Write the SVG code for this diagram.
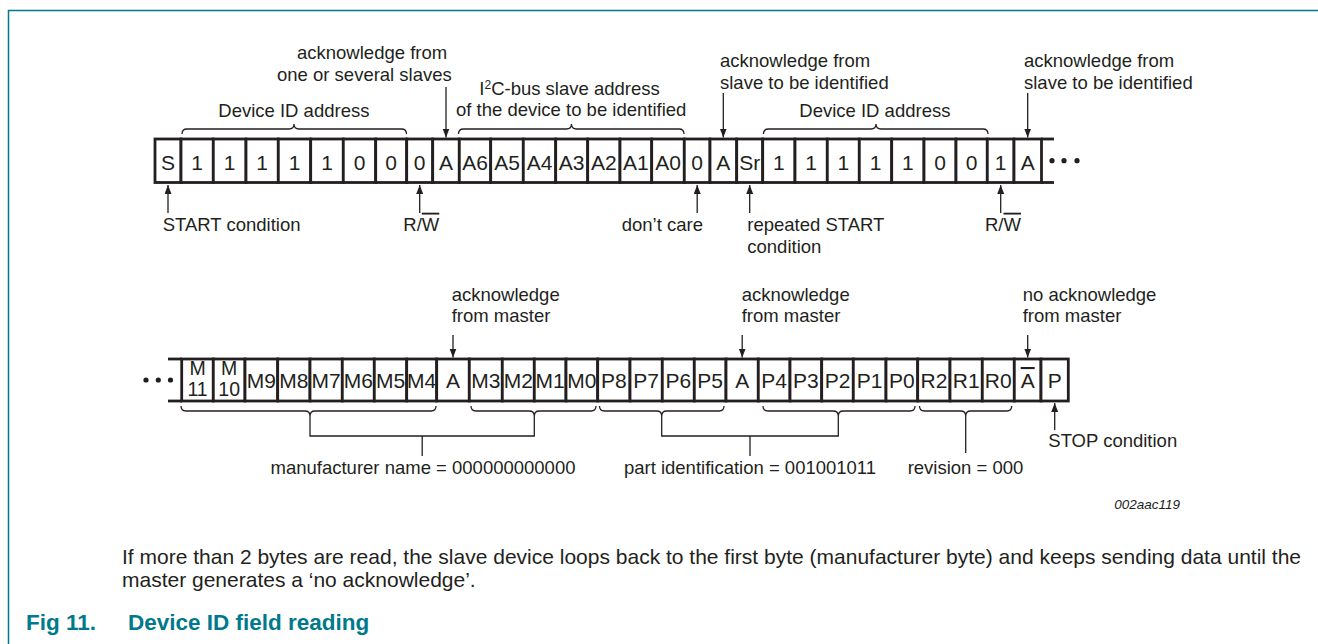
<svg xmlns="http://www.w3.org/2000/svg" width="1318" height="644" viewBox="0 0 1318 644">
<style>
  text { font-family: "Liberation Sans", Arial, sans-serif; fill: #231f20; }
  .lbl { font-size: 18.5px; }
  .ctr { text-anchor: middle; }
  .cell rect { fill: #fff; stroke: #231f20; stroke-width: 2.8; }
  .cell text { font-size: 21px; text-anchor: middle; }
  .cell text.two { font-size: 19.5px; }
  .bus { stroke: #231f20; stroke-width: 2.8; fill: none; }
  .thin { stroke: #231f20; stroke-width: 1.3; fill: none; }
  .arr { stroke: #231f20; stroke-width: 1.3; fill: none; marker-end: url(#ah); }
  .dot { fill: #231f20; }
  .ol { text-decoration: overline; }
  .teal { stroke: #00798c; stroke-width: 1.5; fill: none; }
  .cap { font-size: 22.5px; font-weight: bold; fill: #00798c; }
  .para { font-size: 21px; }
</style>
<defs>
  <marker id="ah" markerUnits="userSpaceOnUse" markerWidth="10" markerHeight="8" refX="9" refY="3.5" orient="auto">
    <path d="M0,0 L9,3.5 L0,7 z" fill="#231f20"/>
  </marker>
</defs>
<rect x="0" y="0" width="1318" height="644" fill="#fff"/>
<g id="frame">
  <path class="teal" d="M8.5,644 V10.5 H1318"/>
</g>

<!-- Top row -->
<g id="row1">
  <line class="bus" x1="1041" y1="139" x2="1054" y2="139"/>
  <line class="bus" x1="1041" y1="182.5" x2="1054" y2="182.5"/>
  <g id="t-S" class="cell"><rect x="155" y="139" width="26" height="43.5"/><text x="168" y="170">S</text></g>
  <g id="t-d1" class="cell"><rect x="181" y="139" width="32.3" height="43.5"/><text x="197.2" y="170">1</text></g>
  <g id="t-d2" class="cell"><rect x="213.3" y="139" width="32.7" height="43.5"/><text x="229.6" y="170">1</text></g>
  <g id="t-d3" class="cell"><rect x="246" y="139" width="32.3" height="43.5"/><text x="262.2" y="170">1</text></g>
  <g id="t-d4" class="cell"><rect x="278.3" y="139" width="32.4" height="43.5"/><text x="294.5" y="170">1</text></g>
  <g id="t-d5" class="cell"><rect x="310.7" y="139" width="32.6" height="43.5"/><text x="327" y="170">1</text></g>
  <g id="t-d6" class="cell"><rect x="343.3" y="139" width="32.4" height="43.5"/><text x="359.5" y="170">0</text></g>
  <g id="t-d7" class="cell"><rect x="375.7" y="139" width="31" height="43.5"/><text x="391.2" y="170">0</text></g>
  <g id="t-rw1" class="cell"><rect x="406.7" y="139" width="26" height="43.5"/><text x="419.7" y="170">0</text></g>
  <g id="t-A1" class="cell"><rect x="432.7" y="139" width="26.6" height="43.5"/><text x="446" y="170">A</text></g>
  <g id="t-A6" class="cell"><rect x="459.3" y="139" width="31.4" height="43.5"/><text x="475" y="170">A6</text></g>
  <g id="t-A5" class="cell"><rect x="490.7" y="139" width="32.6" height="43.5"/><text x="507" y="170">A5</text></g>
  <g id="t-A4" class="cell"><rect x="523.3" y="139" width="32.4" height="43.5"/><text x="539.5" y="170">A4</text></g>
  <g id="t-A3" class="cell"><rect x="555.7" y="139" width="32" height="43.5"/><text x="571.7" y="170">A3</text></g>
  <g id="t-A2" class="cell"><rect x="587.7" y="139" width="32.3" height="43.5"/><text x="603.9" y="170">A2</text></g>
  <g id="t-A1b" class="cell"><rect x="620" y="139" width="31.7" height="43.5"/><text x="635.9" y="170">A1</text></g>
  <g id="t-A0" class="cell"><rect x="651.7" y="139" width="32.6" height="43.5"/><text x="668" y="170">A0</text></g>
  <g id="t-dc" class="cell"><rect x="684.3" y="139" width="25.7" height="43.5"/><text x="697.2" y="170">0</text></g>
  <g id="t-A2ack" class="cell"><rect x="710" y="139" width="26.7" height="43.5"/><text x="723.3" y="170">A</text></g>
  <g id="t-Sr" class="cell"><rect x="736.7" y="139" width="26" height="43.5"/><text x="749.7" y="170">Sr</text></g>
  <g id="t-e1" class="cell"><rect x="762.7" y="139" width="32.3" height="43.5"/><text x="778.9" y="170">1</text></g>
  <g id="t-e2" class="cell"><rect x="795" y="139" width="32.3" height="43.5"/><text x="811.2" y="170">1</text></g>
  <g id="t-e3" class="cell"><rect x="827.3" y="139" width="32" height="43.5"/><text x="843.3" y="170">1</text></g>
  <g id="t-e4" class="cell"><rect x="859.3" y="139" width="32.4" height="43.5"/><text x="875.5" y="170">1</text></g>
  <g id="t-e5" class="cell"><rect x="891.7" y="139" width="32.3" height="43.5"/><text x="907.9" y="170">1</text></g>
  <g id="t-e6" class="cell"><rect x="924" y="139" width="32" height="43.5"/><text x="940" y="170">0</text></g>
  <g id="t-e7" class="cell"><rect x="956" y="139" width="31.3" height="43.5"/><text x="971.7" y="170">0</text></g>
  <g id="t-rw2" class="cell"><rect x="987.3" y="139" width="26.7" height="43.5"/><text x="1000.7" y="170">1</text></g>
  <g id="t-A3ack" class="cell"><rect x="1014" y="139" width="27.5" height="43.5"/><text x="1027.7" y="170">A</text></g>
  <g id="t-more">
    <circle class="dot" cx="1052" cy="160.7" r="2.6"/>
    <circle class="dot" cx="1064" cy="160.7" r="2.6"/>
    <circle class="dot" cx="1077" cy="160.7" r="2.6"/>
  </g>
</g>

<!-- Bottom row -->
<g id="row2">
  <line class="bus" x1="168" y1="359" x2="182" y2="359"/>
  <line class="bus" x1="168" y1="401" x2="182" y2="401"/>
  <g id="b-more">
    <circle class="dot" cx="146" cy="380" r="2.6"/>
    <circle class="dot" cx="158.3" cy="380" r="2.6"/>
    <circle class="dot" cx="170.5" cy="380" r="2.6"/>
  </g>
  <g id="b-M11" class="cell"><rect x="181.7" y="359" width="31.6" height="42"/><text class="two" x="197.5" y="374.5">M</text><text class="two" x="197.5" y="395.5">11</text></g>
  <g id="b-M10" class="cell"><rect x="213.3" y="359" width="31.7" height="42"/><text class="two" x="229.2" y="374.5">M</text><text class="two" x="229.2" y="395.5">10</text></g>
  <g id="b-M9" class="cell"><rect x="245" y="359" width="32.7" height="42"/><text x="261.4" y="388">M9</text></g>
  <g id="b-M8" class="cell"><rect x="277.7" y="359" width="32.3" height="42"/><text x="293.9" y="388">M8</text></g>
  <g id="b-M7" class="cell"><rect x="310" y="359" width="32.3" height="42"/><text x="326.2" y="388">M7</text></g>
  <g id="b-M6" class="cell"><rect x="342.3" y="359" width="32" height="42"/><text x="358.3" y="388">M6</text></g>
  <g id="b-M5" class="cell"><rect x="374.3" y="359" width="32.4" height="42"/><text x="390.5" y="388">M5</text></g>
  <g id="b-M4" class="cell"><rect x="406.7" y="359" width="30" height="42"/><text x="421.7" y="388">M4</text></g>
  <g id="b-A1" class="cell"><rect x="436.7" y="359" width="32.6" height="42"/><text x="453" y="388">A</text></g>
  <g id="b-M3" class="cell"><rect x="469.3" y="359" width="33" height="42"/><text x="485.8" y="388">M3</text></g>
  <g id="b-M2" class="cell"><rect x="502.3" y="359" width="32" height="42"/><text x="518.3" y="388">M2</text></g>
  <g id="b-M1" class="cell"><rect x="534.3" y="359" width="31.7" height="42"/><text x="550.2" y="388">M1</text></g>
  <g id="b-M0" class="cell"><rect x="566" y="359" width="31.7" height="42"/><text x="581.9" y="388">M0</text></g>
  <g id="b-P8" class="cell"><rect x="597.7" y="359" width="32.3" height="42"/><text x="613.9" y="388">P8</text></g>
  <g id="b-P7" class="cell"><rect x="630" y="359" width="32.3" height="42"/><text x="646.2" y="388">P7</text></g>
  <g id="b-P6" class="cell"><rect x="662.3" y="359" width="32" height="42"/><text x="678.3" y="388">P6</text></g>
  <g id="b-P5" class="cell"><rect x="694.3" y="359" width="31.7" height="42"/><text x="710.2" y="388">P5</text></g>
  <g id="b-A2" class="cell"><rect x="726" y="359" width="32.3" height="42"/><text x="742.2" y="388">A</text></g>
  <g id="b-P4" class="cell"><rect x="758.3" y="359" width="31.7" height="42"/><text x="774.2" y="388">P4</text></g>
  <g id="b-P3" class="cell"><rect x="790" y="359" width="31.7" height="42"/><text x="805.9" y="388">P3</text></g>
  <g id="b-P2" class="cell"><rect x="821.7" y="359" width="31.6" height="42"/><text x="837.5" y="388">P2</text></g>
  <g id="b-P1" class="cell"><rect x="853.3" y="359" width="32.7" height="42"/><text x="869.7" y="388">P1</text></g>
  <g id="b-P0" class="cell"><rect x="886" y="359" width="31.7" height="42"/><text x="901.9" y="388">P0</text></g>
  <g id="b-R2" class="cell"><rect x="917.7" y="359" width="32.3" height="42"/><text x="933.9" y="388">R2</text></g>
  <g id="b-R1" class="cell"><rect x="950" y="359" width="32.3" height="42"/><text x="966.2" y="388">R1</text></g>
  <g id="b-R0" class="cell"><rect x="982.3" y="359" width="32" height="42"/><text x="998.3" y="388">R0</text></g>
  <g id="b-NA" class="cell"><rect x="1014.3" y="359" width="26.7" height="42"/><text x="1027.7" y="388" class="ol">A</text></g>
  <g id="b-P" class="cell"><rect x="1041" y="359" width="27.3" height="42"/><text x="1054.7" y="388">P</text></g>
</g>

<!-- Connectors: arrows and braces -->
<g id="connectors">
  <line class="arr" x1="446" y1="87" x2="446" y2="137.5"/>
  <line class="arr" x1="723.3" y1="93" x2="723.3" y2="137.5"/>
  <line class="arr" x1="1027.7" y1="93" x2="1027.7" y2="137.5"/>
  <line class="arr" x1="168" y1="213" x2="168" y2="185"/>
  <line class="arr" x1="419.7" y1="213" x2="419.7" y2="185"/>
  <line class="arr" x1="697.2" y1="213" x2="697.2" y2="185"/>
  <line class="arr" x1="749.7" y1="213" x2="749.7" y2="185"/>
  <line class="arr" x1="1000.7" y1="213" x2="1000.7" y2="185"/>
  <line class="arr" x1="453" y1="335" x2="453" y2="357.5"/>
  <line class="arr" x1="742.2" y1="335" x2="742.2" y2="357.5"/>
  <line class="arr" x1="1027.7" y1="335" x2="1027.7" y2="357.5"/>
  <line class="arr" x1="1054.7" y1="430" x2="1054.7" y2="403"/>
  <!-- top braces -->
  <path class="thin" d="M182,134 Q182,129 187,129 H289 Q294,129 294,124 Q294,129 299,129 H401.5 Q406.5,129 406.5,134"/>
  <path class="thin" d="M458.5,134 Q458.5,129 463.5,129 H566.5 Q571.5,129 571.5,124 Q571.5,129 576.5,129 H679 Q684,129 684,134"/>
  <path class="thin" d="M763.5,134 Q763.5,129 768.5,129 H871 Q876,129 876,124 Q876,129 881,129 H983 Q988,129 988,134"/>
  <!-- bottom braces -->
  <path class="thin" d="M181,406 Q181,411 186,411 H305 Q310,411 310,416 Q310,411 315,411 H431 Q436,411 436,406"/>
  <path class="thin" d="M471,406 Q471,411 476,411 H529.3 Q534.3,411 534.3,416 Q534.3,411 539.3,411 H591 Q596,411 596,406"/>
  <path class="thin" d="M599.5,406 Q599.5,411 604.5,411 H656.7 Q661.7,411 661.7,416 Q661.7,411 666.7,411 H719 Q724,411 724,406"/>
  <path class="thin" d="M763,406 Q763,411 768,411 H833.3 Q838.3,411 838.3,416 Q838.3,411 843.3,411 H910 Q915,411 915,406"/>
  <path class="thin" d="M919.5,406 Q919.5,411 924.5,411 H960.7 Q965.7,411 965.7,416 Q965.7,411 970.7,411 H1006.7 Q1011.7,411 1011.7,406"/>
  <!-- bracket stems -->
  <path class="thin" d="M310,416 V436 H534.3 V416 M422.2,436 V456"/>
  <path class="thin" d="M661.7,416 V436 H838.3 V416 M750,436 V456"/>
  <path class="thin" d="M965.7,416 V453"/>
</g>

<!-- Labels -->
<g id="lbl-ack1">
  <text class="lbl" x="297" y="58.5">acknowledge from</text>
  <text class="lbl" x="277" y="80.5">one or several slaves</text>
</g>
<g id="lbl-devid1"><text class="lbl" x="218.3" y="117.3">Device ID address</text></g>
<g id="lbl-i2c">
  <text class="lbl" x="479.3" y="94.5">I<tspan font-size="12" dy="-6">2</tspan><tspan dy="6">C-bus slave address</tspan></text>
  <text class="lbl" x="456" y="116.3">of the device to be identified</text>
</g>
<g id="lbl-ack2">
  <text class="lbl" x="720" y="67">acknowledge from</text>
  <text class="lbl" x="720" y="88.5">slave to be identified</text>
</g>
<g id="lbl-devid2"><text class="lbl" x="799.3" y="117.3">Device ID address</text></g>
<g id="lbl-ack3">
  <text class="lbl" x="1024" y="67">acknowledge from</text>
  <text class="lbl" x="1024" y="88.5">slave to be identified</text>
</g>
<g id="lbl-start"><text class="lbl" x="162.7" y="230.7">START condition</text></g>
<g id="lbl-rw1"><text class="lbl" x="403.3" y="230.7">R/<tspan class="ol">W</tspan></text></g>
<g id="lbl-dontcare"><text class="lbl" x="621.7" y="230.7">don’t care</text></g>
<g id="lbl-rstart">
  <text class="lbl" x="747.3" y="230.7">repeated START</text>
  <text class="lbl" x="747.3" y="252.5">condition</text>
</g>
<g id="lbl-rw2"><text class="lbl" x="985" y="230.7">R/<tspan class="ol">W</tspan></text></g>
<g id="lbl-mack1">
  <text class="lbl" x="451.7" y="301">acknowledge</text>
  <text class="lbl" x="451.7" y="322">from master</text>
</g>
<g id="lbl-mack2">
  <text class="lbl" x="741.7" y="301">acknowledge</text>
  <text class="lbl" x="741.7" y="322">from master</text>
</g>
<g id="lbl-nack">
  <text class="lbl" x="1022.7" y="301">no acknowledge</text>
  <text class="lbl" x="1022.7" y="322">from master</text>
</g>
<g id="lbl-stop"><text class="lbl" x="1048.3" y="446.7">STOP condition</text></g>
<g id="lbl-manuf"><text class="lbl ctr" x="423" y="474">manufacturer name = 000000000000</text></g>
<g id="lbl-part"><text class="lbl ctr" x="750" y="474">part identification = 001001011</text></g>
<g id="lbl-rev"><text class="lbl ctr" x="965.5" y="474">revision = 000</text></g>
<g id="lbl-code"><text x="1180" y="509" font-size="13.5" font-style="italic" text-anchor="end">002aac119</text></g>

<g id="note">
  <text class="para" x="122" y="564">If more than 2 bytes are read, the slave device loops back to the first byte (manufacturer byte) and keeps sending data until the</text>
  <text class="para" x="122" y="587">master generates a ‘no acknowledge’.</text>
</g>
<g id="caption">
  <text class="cap" x="26" y="630">Fig 11.</text>
  <text class="cap" x="128" y="630">Device ID field reading</text>
</g>
</svg>
